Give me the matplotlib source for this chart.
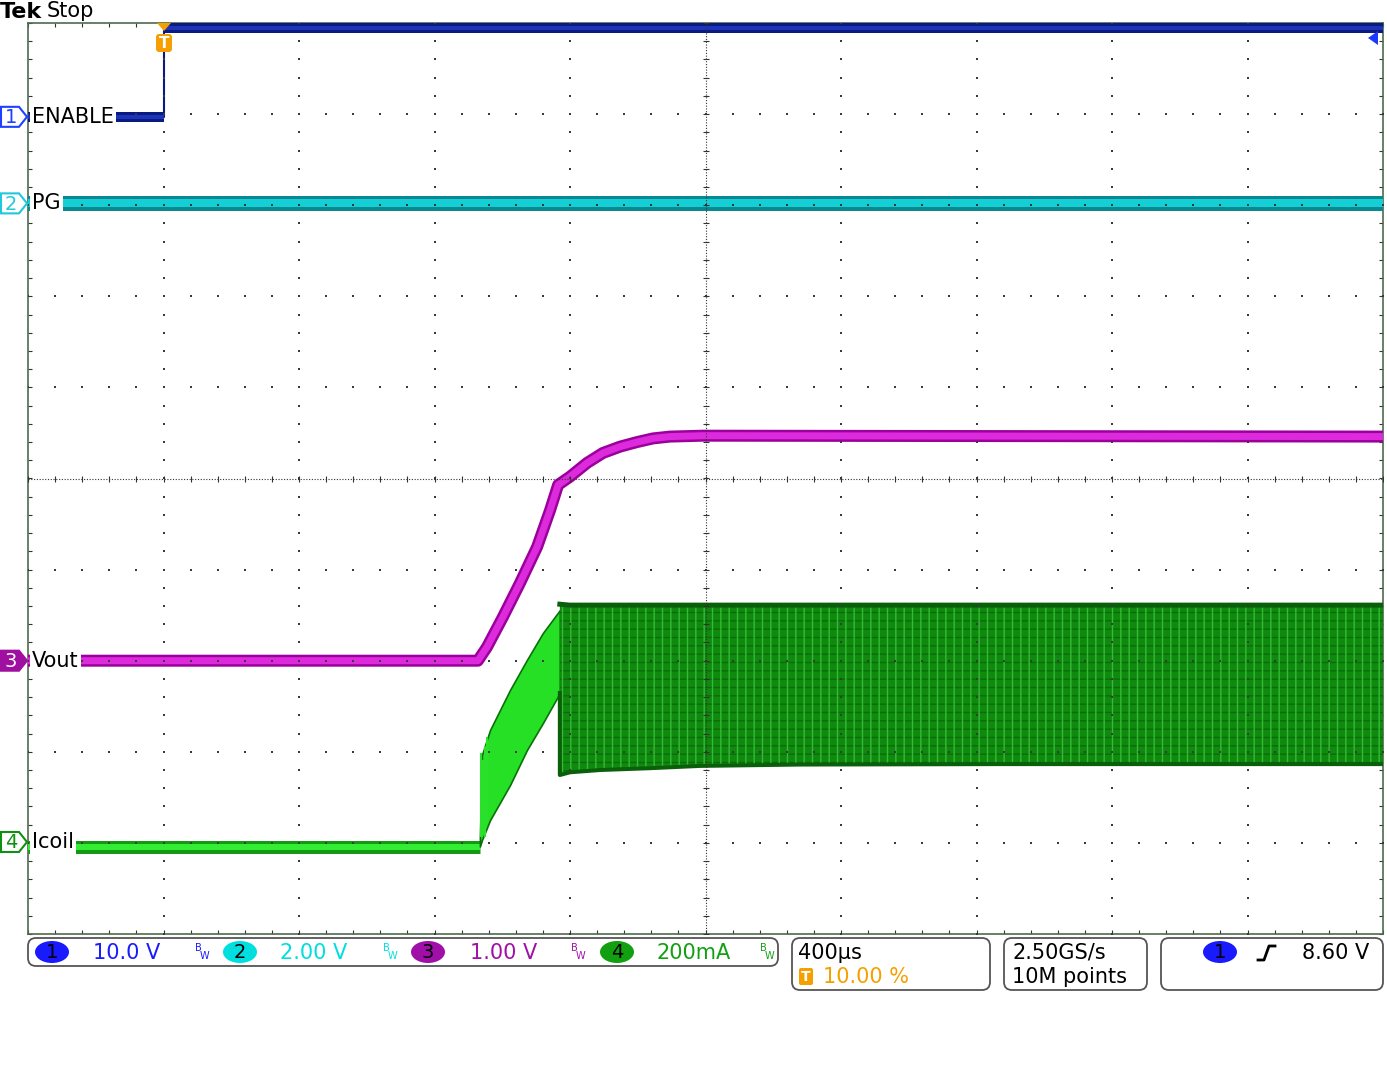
import numpy as np
import matplotlib.pyplot as plt
from matplotlib.patches import FancyBboxPatch, Polygon, Ellipse

W, H = 1387, 1075
plt.rcParams["hatch.linewidth"] = 1.0

# scope setup: units per division and channel position (divisions)
ch1_scale, ch1_pos = 10.0, 3.97
ch2_scale, ch2_pos = 2.0, 3.02
ch3_scale, ch3_pos = 1.0, -2.0
ch4_scale, ch4_pos = 0.2, -4.04
t_div = 400.0  # us per division, trigger at 10 %

# ch1 ENABLE (V)
enable_t = [-400, 0, 0, 3600]
enable_v = [0.0, 0.0, 9.75, 9.75]
# ch2 PG (V)
pg_t = [-400, 3600]
pg_v = [0.0, 0.0]
# ch3 Vout (V)
vout_t = [-400, 928, 955, 1002, 1052, 1103, 1141, 1165, 1200, 1250, 1297, 1348, 1398, 1445, 1495, 1593, 3600]
vout_v = [0.0, 0.0, 0.15, 0.48, 0.85, 1.25, 1.65, 1.93, 2.02, 2.17, 2.28, 2.35, 2.40, 2.44, 2.46, 2.47, 2.46]
# ch4 Icoil (A) before switching
icoil_t = [-400, 934]
icoil_i = [0.0, 0.0]
# soft start ramp envelope
ramp_t = [934, 940, 964, 1023, 1073, 1120, 1170]
ramp_hi = [0.02, 0.201, 0.256, 0.344, 0.410, 0.469, 0.519]
ramp_lo = [0.0, 0.014, 0.058, 0.135, 0.212, 0.271, 0.337]
# spikes when switching starts
spike_t = [936, 942, 948, 955]
spike_hi = [0.205, 0.19, 0.22, 0.24]
spike_lo = [0.02, 0.03, 0.02, 0.05]
# steady ripple envelope
band_t = [1170, 1200, 1289, 1436, 1584, 1879, 2469, 3600]
band_hi = [0.532, 0.530, 0.530, 0.530, 0.530, 0.530, 0.530, 0.530]
band_lo = [0.157, 0.163, 0.168, 0.172, 0.177, 0.180, 0.181, 0.181]


def to_div(vals, scale, pos):
    return np.asarray(vals, dtype=float) / scale + pos


def px(p):
    return p * 0.72  # pixels -> points at 100 dpi


fig = plt.figure(figsize=(W / 100, H / 100), dpi=100)
ax = fig.add_axes([28 / W, 1 - 934 / H, 1355 / W, 911 / H])
ax.set_xlim(-400, 3600)
ax.set_ylim(-5, 5)

# graticule
xt = np.arange(-400, 3601, t_div / 5)
ys = np.arange(-5, 5.001, 0.2)
gk = dict(s=2.0, c="#3a3a3a", marker="s", linewidths=0, zorder=6)
for k in range(1, 10):
    if k != 5:
        ax.scatter(np.full(ys.size, -400 + t_div * k), ys, **gk)
for j in range(-4, 5):
    if j != 0:
        ax.scatter(xt, np.full(xt.size, j), **gk)
ax.axhline(0, ls=(0, (1, 1.5)), color="#333333", lw=0.8, zorder=6)
ax.axvline(1600, ls=(0, (1, 1.5)), color="#333333", lw=0.8, zorder=6)
ax.scatter(xt, np.zeros(xt.size), marker="|", s=22, c="#333333", linewidths=0.8, zorder=6)
ax.scatter(np.full(ys.size, 1600), ys, marker="_", s=22, c="#333333", linewidths=0.8, zorder=6)

ax.set_xticks(xt)
ax.set_yticks(ys)
ax.tick_params(direction="in", length=3, width=0.8, color="#333333", top=True, right=True,
               labelbottom=False, labelleft=False)
for s in ax.spines.values():
    s.set_color("#4d6b4d")
    s.set_linewidth(1.2)

# ch4 Icoil
y4 = to_div(icoil_i, ch4_scale, ch4_pos)
ax.plot(icoil_t, y4, color="#129a12", lw=px(13), solid_capstyle="butt", zorder=3)
ax.plot(icoil_t, y4, color="#35ec35", lw=px(6), solid_capstyle="butt", zorder=3)
ax.fill_between(ramp_t, to_div(ramp_lo, ch4_scale, ch4_pos), to_div(ramp_hi, ch4_scale, ch4_pos),
                facecolor="#25e025", edgecolor="#0a700a", lw=1.2, zorder=3)
ax.vlines(spike_t, to_div(spike_lo, ch4_scale, ch4_pos), to_div(spike_hi, ch4_scale, ch4_pos),
          color="#2be02b", lw=1.5, zorder=3)
band_lo_d = to_div(band_lo, ch4_scale, ch4_pos)
band_hi_d = to_div(band_hi, ch4_scale, ch4_pos)
ax.fill_between(band_t, band_lo_d, band_hi_d, facecolor="#0f8a0f", edgecolor="#0a6c0a",
                hatch="--", lw=0, zorder=3)
ax.fill_between(band_t, band_lo_d, band_hi_d, facecolor="none", edgecolor="#34bc34",
                hatch="||", lw=0, zorder=3)
ax.plot(band_t, band_hi_d, color="#0a600a", lw=px(5), zorder=3)
ax.plot([ramp_t[-1]] + band_t, to_div([ramp_lo[-1]] + band_lo, ch4_scale, ch4_pos),
        color="#0a600a", lw=px(4), zorder=3)

# ch3 Vout
y3 = to_div(vout_v, ch3_scale, ch3_pos)
ax.plot(vout_t, y3, color="#9c009c", lw=px(12), solid_joinstyle="round", zorder=4)
ax.plot(vout_t, y3, color="#dc2adc", lw=px(7), solid_joinstyle="round", zorder=4)

# ch2 PG
y2 = to_div(pg_v, ch2_scale, ch2_pos)
ax.plot(pg_t, y2, color="#08888f", lw=px(15), zorder=4)
ax.plot(pg_t, y2, color="#16cfd6", lw=px(8), zorder=4)

# ch1 ENABLE: thin edge, thick levels
y1 = to_div(enable_v, ch1_scale, ch1_pos)
ax.plot(enable_t, y1, color="#0a1a80", lw=1.5, zorder=5)
for a, b in [(0, 1), (2, 3)]:
    ax.plot(enable_t[a:b + 1], y1[a:b + 1], color="#0a1a80", lw=px(10), solid_capstyle="butt", zorder=5)
    ax.plot(enable_t[a:b + 1], y1[a:b + 1], color="#1c34b8", lw=px(4), solid_capstyle="butt", zorder=5)

# overlay in pixel coordinates
ov = fig.add_axes([0, 0, 1, 1])
ov.set_xlim(0, W)
ov.set_ylim(H, 0)
ov.axis("off")
ov.patch.set_alpha(0)
ov.set_zorder(10)


def ypix(pos):
    return 23 + (5 - pos) * 91.1


ov.text(0, 12, "Tek", fontsize=16, fontweight="bold", va="center", ha="left")
ov.text(47, 11, "Stop", fontsize=15, va="center", ha="left")

labels = [("ENABLE", ch1_pos, "1", "#2040ff", "white", "#2040ff"),
          ("PG", ch2_pos, "2", "#20c8dc", "white", "#20c8dc"),
          ("Vout", ch3_pos, "3", "#a010a0", "#a010a0", "white"),
          ("Icoil", ch4_pos + 0.05, "4", "#109010", "white", "#109010")]
for name, pos, num, ec, fc, tc in labels:
    yc = ypix(pos)
    ov.add_patch(Polygon([(1, yc - 10), (19, yc - 10), (27, yc), (19, yc + 10), (1, yc + 10)],
                         closed=True, fc=fc, ec=ec, lw=1.5))
    ov.text(11, yc + 1, num, color=tc, fontsize=14, ha="center", va="center")
    ov.text(32, yc, name, fontsize=15, ha="left", va="center",
            bbox=dict(fc="white", ec="none", pad=1.5))

# trigger position marker
orange = "#f5a000"
ov.add_patch(Polygon([(157, 23), (171, 23), (164, 31)], closed=True, fc=orange, ec="none"))
ov.add_patch(FancyBboxPatch((156, 34), 16, 18, boxstyle="round,pad=0,rounding_size=3", fc=orange, ec="none"))
ov.text(164, 43, "T", color="white", fontsize=11, fontweight="bold", ha="center", va="center")
# trigger level arrow
ov.add_patch(Polygon([(1368, 38), (1378, 31), (1378, 45)], closed=True, fc="#1a3aff", ec="none"))

# status bar
box = dict(boxstyle="round,pad=0,rounding_size=8", fc="white", ec="#555555", lw=1.3)
ov.add_patch(FancyBboxPatch((28, 938), 750, 28, **box))
ov.add_patch(FancyBboxPatch((792, 938), 198, 52, **box))
ov.add_patch(FancyBboxPatch((1004, 938), 143, 52, **box))
ov.add_patch(FancyBboxPatch((1161, 938), 222, 52, **box))

chips = [(52, "1", "#1a1aff", 93, "10.0 V", 195),
         (240, "2", "#00dede", 280, "2.00 V", 383),
         (428, "3", "#a010a8", 470, "1.00 V", 571),
         (617, "4", "#10a010", 657, "200mA", 760)]
for cx, num, col, vx, vtxt, bwx in chips:
    ov.add_patch(Ellipse((cx, 952), 34, 22, fc=col, ec="none"))
    ov.text(cx, 953, num, fontsize=14, ha="center", va="center", color="black")
    ov.text(vx, 953, vtxt, fontsize=15, ha="left", va="center", color=col)
    ov.text(bwx, 948, "B", fontsize=7, ha="left", va="center", color=col)
    ov.text(bwx + 5, 956, "W", fontsize=7, ha="left", va="center", color=col)

ov.text(798, 953, "400µs", fontsize=15, ha="left", va="center")
ov.add_patch(FancyBboxPatch((799, 968), 14, 17, boxstyle="round,pad=0,rounding_size=2", fc=orange, ec="none"))
ov.text(806, 977, "T", color="white", fontsize=10, fontweight="bold", ha="center", va="center")
ov.text(823, 977, "10.00 %", fontsize=15, ha="left", va="center", color=orange)
ov.text(1012, 953, "2.50GS/s", fontsize=15, ha="left", va="center")
ov.text(1012, 977, "10M points", fontsize=15, ha="left", va="center")
ov.add_patch(Ellipse((1220, 952), 34, 22, fc="#1a1aff", ec="none"))
ov.text(1220, 953, "1", fontsize=14, ha="center", va="center", color="black")
ov.plot([1258, 1264, 1269, 1275], [960, 960, 946, 946], color="black", lw=2)
ov.text(1302, 953, "8.60 V", fontsize=15, ha="left", va="center")

fig.savefig("out.png", dpi=100)
